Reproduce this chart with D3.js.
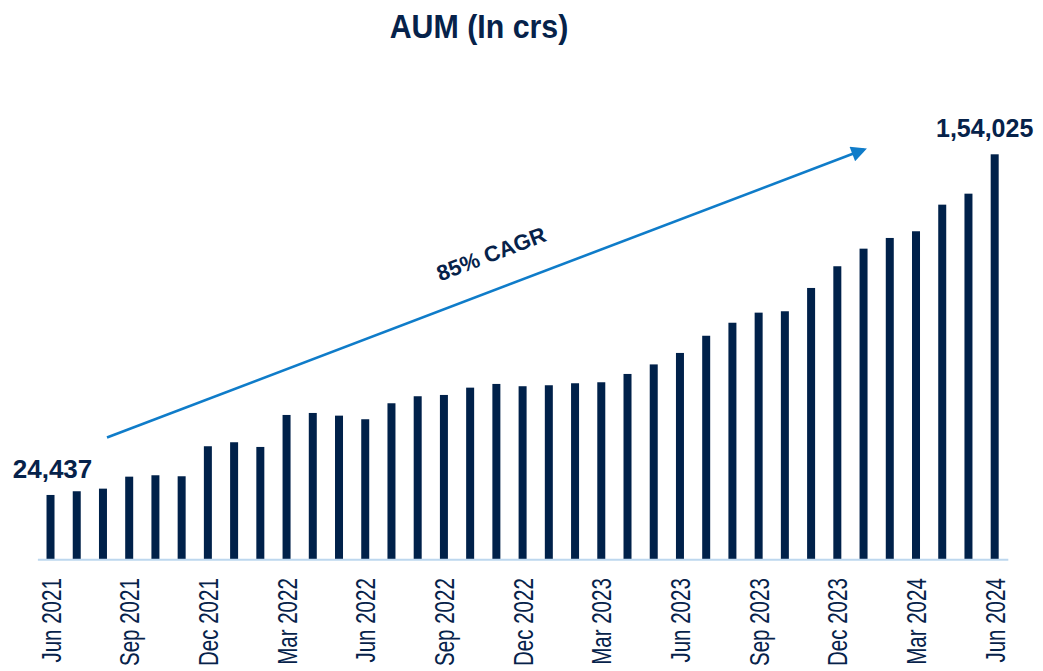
<!DOCTYPE html>
<html>
<head>
<meta charset="utf-8">
<script src="https://cdn.jsdelivr.net/npm/d3@7"></script>
<style>
  body { margin: 0; background: #fff; }
  svg text { font-family: "Liberation Sans", Arial, sans-serif; fill: #06224a; }
</style>
</head>
<body>
<div id="chart"></div>
<script>
// ==============================
// Data (AUM in crores, monthly)
// ==============================
var months = [
  "Jun 2021","Jul 2021","Aug 2021","Sep 2021","Oct 2021","Nov 2021","Dec 2021","Jan 2022","Feb 2022",
  "Mar 2022","Apr 2022","May 2022","Jun 2022","Jul 2022","Aug 2022","Sep 2022","Oct 2022","Nov 2022",
  "Dec 2022","Jan 2023","Feb 2023","Mar 2023","Apr 2023","May 2023","Jun 2023","Jul 2023","Aug 2023",
  "Sep 2023","Oct 2023","Nov 2023","Dec 2023","Jan 2024","Feb 2024","Mar 2024","Apr 2024","May 2024","Jun 2024"
];
var aum = [
  24437, 25850, 26840, 31400, 31930, 31550, 42970, 44490, 42700,
  54870, 55630, 54610, 53240, 59320, 61990, 62480, 65260, 66670,
  65800, 66170, 66930, 67310, 70470, 74100, 78460, 85000, 89950,
  93790, 94320, 103180, 111440, 118130, 122200, 124750, 134870, 139050, 154025
];
// every third month gets a tick label
var tickLabels = ["Jun 2021","Sep 2021","Dec 2021","Mar 2022","Jun 2022","Sep 2022","Dec 2022",
  "Mar 2023","Jun 2023","Sep 2023","Dec 2023","Mar 2024","Jun 2024"];
var endLabels = ["24,437", "1,54,025"];
var cagrText = "85% CAGR";
var title = "AUM (In crs)";

// ==============================
// Setup SVG area
// ==============================
var svgWidth = 1043, svgHeight = 671;
var svg = d3.select("#chart").append("svg")
  .attr("width", svgWidth)
  .attr("height", svgHeight);

var xScale = d3.scaleBand()
  .domain(months)
  .range([37.4, 1007.8])
  .paddingInner(0.695)
  .paddingOuter(0.3475);

var yScale = d3.scaleLinear()
  .domain([0, 154025])
  .range([559.2, 154.3]);

var navy = "#00214a";

// Bars
svg.selectAll("rect.bar")
  .data(aum)
  .enter()
  .append("rect")
  .attr("class", "bar")
  .attr("x", (d, i) => xScale(months[i]))
  .attr("y", d => yScale(d))
  .attr("width", xScale.bandwidth())
  .attr("height", d => yScale(0) - yScale(d))
  .attr("fill", navy);

// Axis line + tick labels
var xAxis = d3.axisBottom(xScale)
  .tickValues(tickLabels)
  .tickSize(0)
  .tickPadding(0);

var axisG = svg.append("g")
  .attr("transform", `translate(0, ${yScale(0)})`)
  .call(xAxis);

axisG.select(".domain")
  .attr("stroke", "#bdd7ee")
  .attr("stroke-width", 2);

axisG.selectAll("text")
  .attr("font-size", 27)
  .attr("font-family", "Liberation Sans, Arial, sans-serif")
  .attr("fill", "#06224a")
  .attr("text-anchor", "end")
  .attr("dy", null)
  .attr("y", 0)
  .attr("transform", "translate(10, 19) rotate(-90) scale(0.76, 1)");

// Title
svg.append("text")
  .attr("x", 479)
  .attr("y", 38)
  .attr("text-anchor", "middle")
  .attr("font-size", 33)
  .attr("font-weight", "bold")
  .attr("transform", "translate(479,0) scale(0.92,1) translate(-479,0)")
  .text(title);

// First / last value labels
var first = 0, last = aum.length - 1;
svg.append("text")
  .attr("x", xScale(months[first]) + xScale.bandwidth() / 2 + 2)
  .attr("y", yScale(aum[first]) - 17)
  .attr("text-anchor", "middle")
  .attr("font-size", 26)
  .attr("font-weight", "bold")
  .text(endLabels[0]);

svg.append("text")
  .attr("x", xScale(months[last]) + xScale.bandwidth() / 2 - 10)
  .attr("y", yScale(aum[last]) - 17)
  .attr("text-anchor", "middle")
  .attr("font-size", 25)
  .attr("font-weight", "bold")
  .text(endLabels[1]);

// CAGR arrow
var defs = svg.append("defs");
defs.append("marker")
  .attr("id", "arrowhead")
  .attr("viewBox", "0 0 10 10")
  .attr("refX", 8)
  .attr("refY", 5)
  .attr("markerWidth", 7)
  .attr("markerHeight", 6)
  .attr("markerUnits", "strokeWidth")
  .attr("orient", "auto")
  .append("path")
  .attr("d", "M0,0 L10,5 L0,10 z")
  .attr("fill", "#0f7cc9");

var arrowStart = [107, 437.5], arrowEnd = [864, 149.5];
svg.append("line")
  .attr("x1", arrowStart[0]).attr("y1", arrowStart[1])
  .attr("x2", arrowEnd[0]).attr("y2", arrowEnd[1])
  .attr("stroke", "#0f7cc9")
  .attr("stroke-width", 2.6)
  .attr("marker-end", "url(#arrowhead)");

var angle = Math.atan2(arrowEnd[1] - arrowStart[1], arrowEnd[0] - arrowStart[0]) * 180 / Math.PI;
svg.append("text")
  .attr("transform", `translate(494, 261) rotate(${angle})`)
  .attr("text-anchor", "middle")
  .attr("font-size", 22)
  .attr("font-weight", "bold")
  .text(cagrText);
</script>
</body>
</html>
